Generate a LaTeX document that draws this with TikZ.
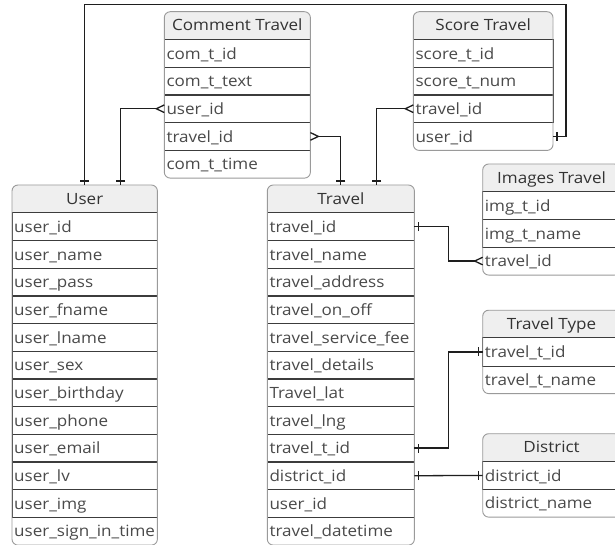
\documentclass[tikz,border=0pt]{standalone}
\usepackage{fontspec}
\setmainfont[FakeStretch=1.1]{Open Sans}
\usetikzlibrary{calc}
\definecolor{hdrfill}{HTML}{EFEFEF}
\definecolor{outline}{HTML}{9A9A9A}
\definecolor{sepcol}{HTML}{3C3C3C}
\definecolor{txt}{HTML}{4A4A4A}
\definecolor{hdrtxt}{HTML}{333333}
\definecolor{conncol}{HTML}{1E1E1E}
\tikzset{
  hdr/.style={anchor=north west, minimum height=27.67pt, inner sep=0pt,
    font=\fontsize{15.5}{18}\selectfont, text=hdrtxt, text height=12.5pt, text depth=2pt},
  rowcell/.style={anchor=north west, minimum height=27.67pt, inner xsep=2pt, inner ysep=0pt,
    align=left, font=\fontsize{15.5}{18}\selectfont, text=txt, text height=13pt, text depth=1.5pt},
  conn/.style={draw=conncol, line width=1.3pt},
  outerbox/.style={draw=outline, line width=0.9pt, rounded corners=6pt},
  sepline/.style={draw=sepcol, line width=0.8pt},
  onebar/.pic={\draw[conn] (-4,-4.5) -- (-4,4.5);},
  crowfoot/.pic={\draw[conn] (0,-3.8) -- (-8,0) -- (0,3.8);},
}
% name, x, y, width, title, number of rows, rows
\newcommand{\ertable}[7]{%
  \fill[hdrfill, rounded corners=6pt] (#2,#3) rectangle ++(#4,27.67);
  \fill[hdrfill] (#2,{#3+14}) rectangle ++(#4,13.67);
  \coordinate (#1-nw) at (#2,#3);
  \node[hdr, minimum width=#4pt] (#1) at (#1-nw) {#5};
  \foreach \t [count=\i] in {#7} {
    \node[rowcell, text width=\dimexpr#4pt-4pt\relax] (#1-\i) at ($(#1-nw)+(0,27.67*\i)$) {\t};
    \ifnum\i>1
      \pgfmathtruncatemacro\prv{\i-1}
      \draw[sepline] (#1-\prv.north west) rectangle (#1-\prv.south east);
    \fi
  }
  \draw[outerbox] (#1-nw) rectangle (#1-#6.south east);
}
\begin{document}
\begin{tikzpicture}[x=1pt,y=-1pt]
\useasboundingbox (0,0) rectangle (615,545);
\fill[white] (0,0) rectangle (615,545);
\clip (0,0) rectangle (615,545);

\ertable{com}{164.3}{11.7}{145.7}{Comment Travel}{5}{com\_t\_id,com\_t\_text,user\_id,travel\_id,com\_t\_time}
\ertable{score}{413.3}{11.7}{139.3}{Score Travel}{4}{score\_t\_id,score\_t\_num,travel\_id,user\_id}
\ertable{user}{12}{185}{145}{User}{12}{user\_id,user\_name,user\_pass,user\_fname,user\_lname,user\_sex,user\_birthday,user\_phone,user\_email,user\_lv,user\_img,user\_sign\_in\_time}
\ertable{travel}{267.3}{185}{146.7}{Travel}{12}{travel\_id,travel\_name,travel\_address,travel\_on\_off,travel\_service\_fee,travel\_details,Travel\_lat,travel\_lng,travel\_t\_id,district\_id,user\_id,travel\_datetime}
\ertable{img}{482.7}{164}{137.3}{Images Travel}{3}{img\_t\_id,img\_t\_name,travel\_id}
\ertable{ttype}{482.7}{310.2}{137.3}{Travel Type}{2}{travel\_t\_id,travel\_t\_name}
\ertable{dist}{482.7}{433.7}{137.3}{District}{2}{district\_id,district\_name}

% connector anchor points
\coordinate (uA) at ($(user-nw)+(72.3,0)$);
\coordinate (uB) at ($(user-nw)+(108.7,0)$);
\coordinate (tA) at ($(travel-nw)+(73.5,0)$);
\coordinate (tB) at ($(travel-nw)+(109.4,0)$);
\coordinate (loopTR) at (566,4.3);
\coordinate (vx) at (448.3,0);

% User -- Score Travel (user_id)
\draw[conn] (uA) -- (uA |- loopTR) -- (loopTR) |- (score-4.east);
\pic[rotate=-90] at (uA) {onebar};
\pic[rotate=180] at (score-4.east) {onebar};

% User -- Comment Travel (user_id)
\draw[conn, shorten >=8pt] (uB) |- (com-3.west);
\pic[rotate=-90] at (uB) {onebar};
\pic at (com-3.west) {crowfoot};

% Travel -- Comment Travel (travel_id)
\draw[conn, shorten >=8pt] (tA) |- (com-4.east);
\pic[rotate=-90] at (tA) {onebar};
\pic[rotate=180] at (com-4.east) {crowfoot};

% Travel -- Score Travel (travel_id)
\draw[conn, shorten >=8pt] (tB) |- (score-3.west);
\pic[rotate=-90] at (tB) {onebar};
\pic at (score-3.west) {crowfoot};

% Travel -- Images Travel
\draw[conn, shorten >=8pt] (travel-1.east) -- (travel-1.east -| vx) |- (img-3.west);
\pic[rotate=180] at (travel-1.east) {onebar};
\pic at (img-3.west) {crowfoot};

% Travel -- Travel Type
\draw[conn] (travel-9.east) -- (travel-9.east -| vx) |- (ttype-1.west);
\pic[rotate=180] at (travel-9.east) {onebar};
\pic at (ttype-1.west) {onebar};

% Travel -- District
\draw[conn] (travel-10.east) -- (dist-1.west);
\pic[rotate=180] at (travel-10.east) {onebar};
\pic at (dist-1.west) {onebar};
\end{tikzpicture}
\end{document}
